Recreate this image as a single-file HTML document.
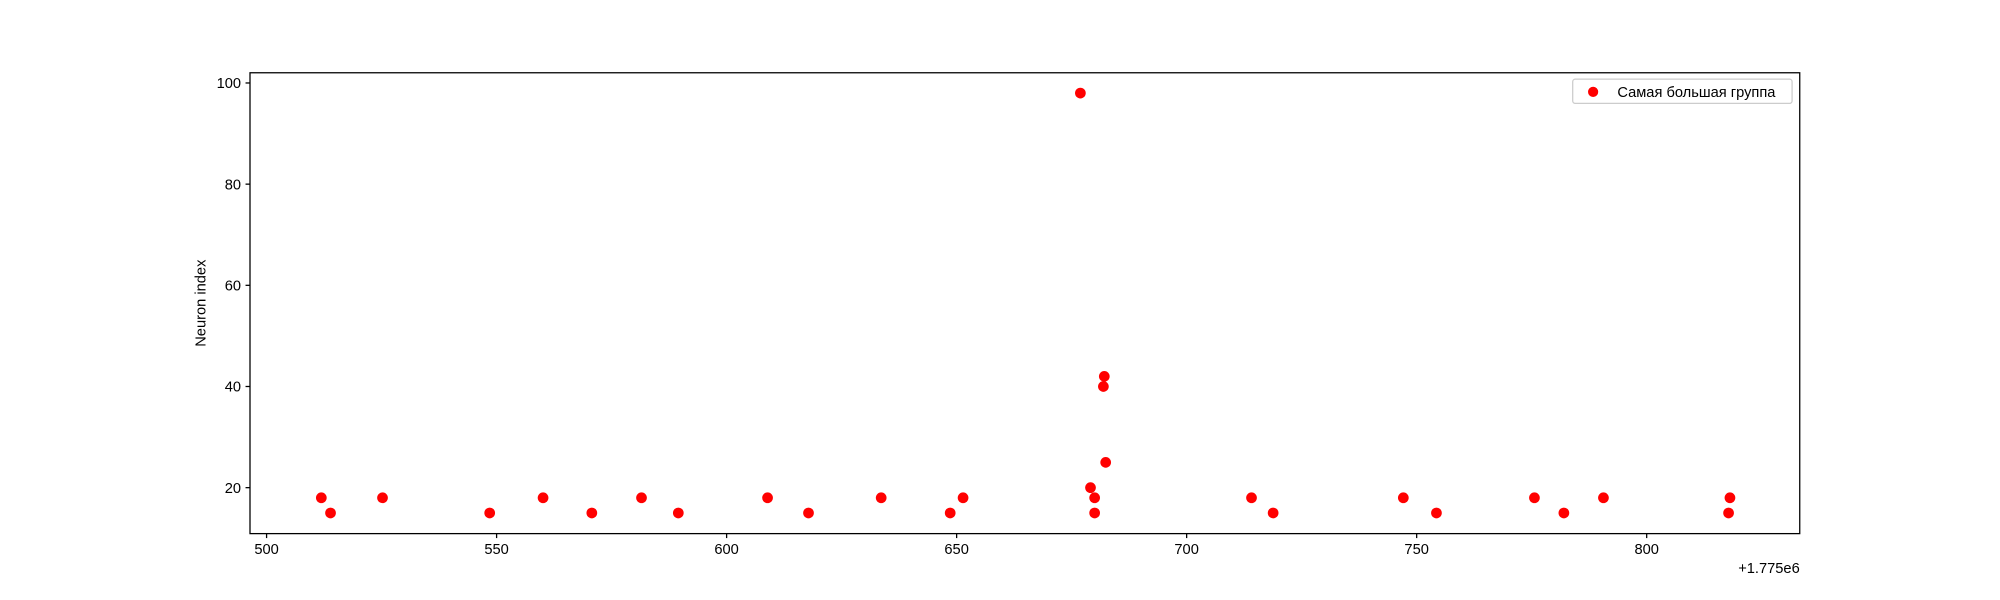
<!DOCTYPE html>
<html><head><meta charset="utf-8"><style>
html,body{margin:0;padding:0;background:#fff;}
svg{display:block;font-family:"Liberation Sans","DejaVu Sans",sans-serif;}
</style></head><body>
<svg id="chart" width="2000" height="600" viewBox="0 0 1568 470" preserveAspectRatio="none" xmlns="http://www.w3.org/2000/svg">
<rect width="1568" height="470" fill="#fff"/>
<g id="ticks"></g>
<g id="points"></g>
<rect x="196" y="57" width="1215" height="361" fill="none" stroke="#000" stroke-width="1"/>
<text transform="translate(161,237.5) rotate(-90)" text-anchor="middle" font-size="11.5">Neuron index</text>
<text x="1411" y="449" text-anchor="end" font-size="11.5">+1.775e6</text>
<g>
<rect x="1233" y="62" width="172" height="19" rx="2" fill="#fff" stroke="#ccc" stroke-width="1"/>
<circle cx="1249" cy="72" r="4" fill="#ff0000"/>
<text x="1268" y="76" font-size="11.5">Самая большая группа</text>
</g>
</svg>
<script>
const xValues=[511.9,513.9,525.2,548.5,560.1,570.7,581.5,589.5,608.9,617.8,633.6,648.6,651.4,676.9,679.1,680,680,681.9,682.1,682.4,714.1,718.8,747.1,754.3,775.6,782,790.6,817.8,818.1];
const yValues=[18,15,18,15,18,15,18,15,18,15,18,15,18,98,20,18,15,40,42,25,18,15,18,15,18,15,18,15,18];
const xTicks=[500,550,600,650,700,750,800];
const yTicks=[20,40,60,80,100];
const sx=v=>209+(v-500)*(1291-209)/300;
const sy=v=>382-(v-20)*(382-65)/80;
const NS="http://www.w3.org/2000/svg";
const tg=document.getElementById('ticks'),pg=document.getElementById('points');
function mk(t,a,p){const e=document.createElementNS(NS,t);for(const k in a)e.setAttribute(k,a[k]);p.appendChild(e);return e;}
xTicks.forEach(v=>{
 const l=mk('line',{x1:sx(v),x2:sx(v),y1:418,y2:421.5,stroke:'#000'},tg);
 
 
 const t=mk('text',{x:sx(v),y:434,'text-anchor':'middle','font-size':'11.5'},tg);t.textContent=v;
 
 
});
yTicks.forEach(v=>{
 const l=mk('line',{x1:192.5,x2:196,y1:sy(v),y2:sy(v),stroke:'#000'},tg);
 
 
 const t=mk('text',{x:189,y:sy(v)+4,'text-anchor':'end','font-size':'11.5'},tg);t.textContent=v;
 
 
});
xValues.forEach((x,i)=>{
 const c=mk('circle',{cx:sx(x),cy:sy(yValues[i]),r:4.2,fill:'#ff0000'},pg);
 
 
});
</script>
</body></html>
